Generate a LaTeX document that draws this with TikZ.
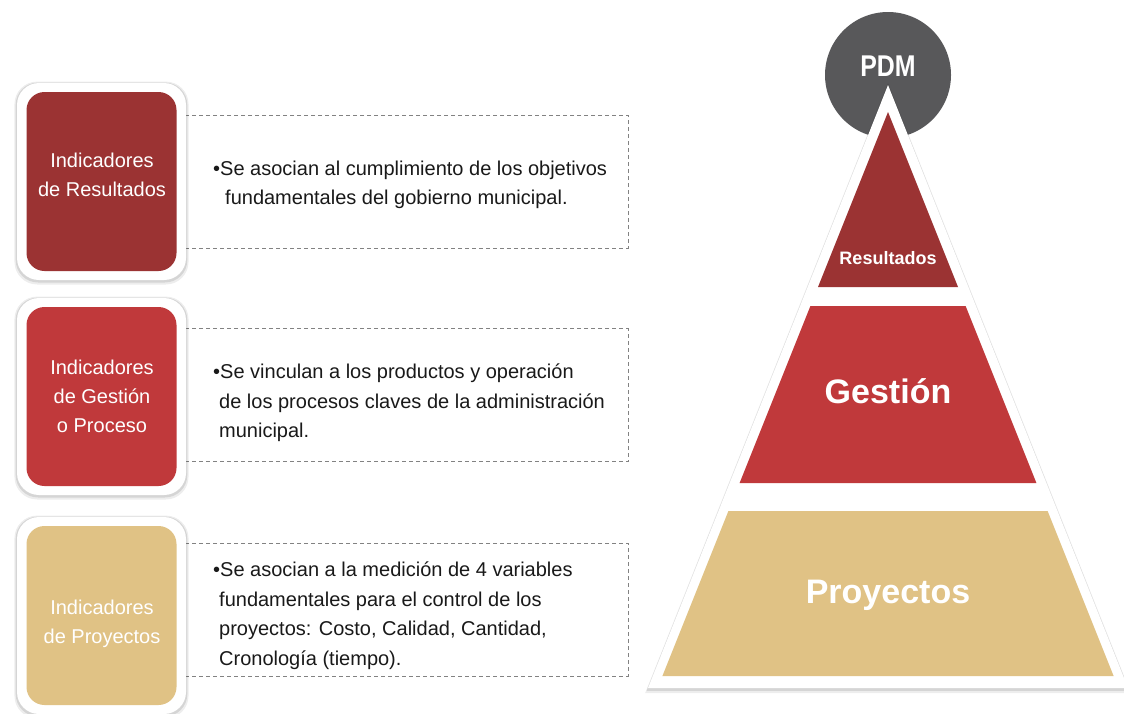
\documentclass[tikz,border=0pt]{standalone}
\usepackage{fontspec}
\setmainfont{Liberation Sans}
\usetikzlibrary{shadows}

\definecolor{resred}{RGB}{155,51,51}
\definecolor{gesred}{RGB}{192,57,59}
\definecolor{proytan}{RGB}{224,194,133}
\definecolor{pdmgrey}{RGB}{88,88,90}
\definecolor{dashgrey}{RGB}{130,130,130}
\definecolor{txtdark}{RGB}{25,25,25}

\tikzset{
  halo/.style={general shadow={fill=black, opacity=0.07, shadow scale=#1, shadow yshift=-1.5pt},
    general shadow={fill=black, opacity=0.1, shadow scale=1+(#1-1)/2, shadow yshift=-1pt}},
  frame/.style={fill=white, rounded corners=22pt, minimum width=169pt, minimum height=197pt,
    halo=1.03},
  ind/.style={rounded corners=18pt, minimum width=150pt, minimum height=179pt},
  indtext/.style={text=white, align=center, font=\fontsize{20}{29}\selectfont},
  desc/.style={draw=dashgrey, dash pattern=on 4pt off 3pt, line width=0.8pt,
    minimum width=478pt, minimum height=133pt},
  note/.style={anchor=west, align=left, inner sep=0pt, text=txtdark,
    font=\fontsize{20}{29.5}\selectfont},
  layer/.style={text=white, font=\bfseries}
}

\begin{document}
\begin{tikzpicture}

\useasboundingbox (0,0) rectangle (1124pt,-713pt);

\begin{scope}[x=1pt,y=-1pt]

  % dashed boxes
  \node[desc] (dres) at (389,181.5) {};
  \node[desc] (dges) at (389,395) {};
  \node[desc] (dpro) at (389,609.5) {};

  % left boxes
  \node[frame] (fres) at (101.5,181.5) {};
  \node[frame] (fges) at (101.5,396.5) {};
  \node[frame] (fpro) at (101.5,615.5) {};

  \node[ind,fill=resred] (ires) at (fres) {};
  \node[ind,fill=gesred] (iges) at (fges) {};
  \node[ind,fill=proytan] (ipro) at (fpro) {};

  \node[indtext] (tres) at (102,175) {Indicadores\\de Resultados};
  \node[indtext] (tges) at (102,396) {Indicadores\\de Gestión\\o Proceso};
  \node[indtext] (tpro) at (102,624) {Indicadores\\de Proyectos};

  \node[note] (nres) at (213,185) {•Se asocian al cumplimiento de los objetivos\\
    \hspace*{12pt}fundamentales del gobierno municipal.};
  \node[note] (nges) at (213,403) {•Se vinculan a los productos y operación\\
    \hspace*{6pt}de los procesos claves de la administración\\
    \hspace*{6pt}municipal.};
  \node[note] (npro) at (213,615.5) {•Se asocian a la medición de 4 variables\\
    \hspace*{6pt}fundamentales para el control de los\\
    \hspace*{6pt}proyectos: Costo, Calidad, Cantidad,\\
    \hspace*{6pt}Cronología (tiempo).};

  % pyramid
  \fill[pdmgrey] (888,75) circle[radius=63];
  \fill[white, halo=1.012] (888,85) -- (1128,688) -- (648,688) -- cycle;
  \fill[resred] (888,112) -- (958,287) -- (818,287) -- cycle;
  \fill[gesred] (810.4,306) -- (965.6,306) -- (1036.4,483) -- (739.6,483) -- cycle;
  \fill[proytan] (728.4,511) -- (1047.6,511) -- (1113.6,676) -- (662.4,676) -- cycle;

  \node[layer] (pdm) at (888,66) {\fontsize{30}{30}\selectfont\scalebox{0.83}[1]{PDM}};
  \node[layer] (lres) at (888,258) {\fontsize{18}{18}\selectfont Resultados};
  \node[layer] (lges) at (888,391) {\fontsize{34}{34}\selectfont Gestión};
  \node[layer] (lpro) at (888,595) {\fontsize{34}{34}\selectfont Proyectos};

\end{scope}

\end{tikzpicture}
\end{document}
